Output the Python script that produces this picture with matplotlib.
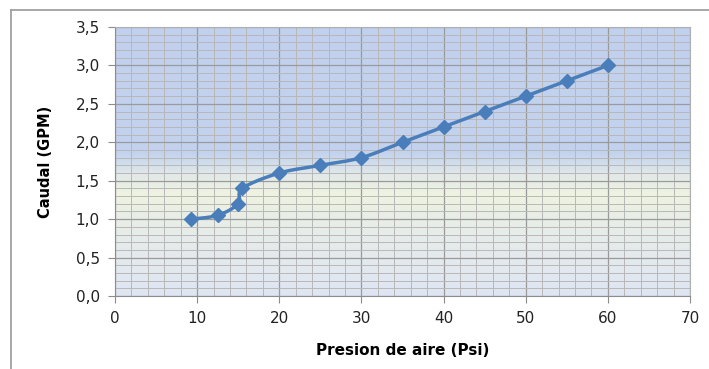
import numpy as np
import matplotlib.pyplot as plt
from matplotlib.colors import LinearSegmentedColormap
from matplotlib.ticker import MultipleLocator, FuncFormatter
from matplotlib.lines import Line2D

plt.rcParams['font.family'] = 'DejaVu Sans'

# Data
presion = [9.3, 12.5, 15.0, 15.5, 20, 25, 30, 35, 40, 45, 50, 55, 60]
caudal = [1.0, 1.05, 1.2, 1.4, 1.6, 1.7, 1.8, 2.0, 2.2, 2.4, 2.6, 2.8, 3.0]
x_ticks = [0, 10, 20, 30, 40, 50, 60, 70]
y_ticks = [0.0, 0.5, 1.0, 1.5, 2.0, 2.5, 3.0, 3.5]

line_color = '#4a7ebb'


def smooth_curve(x, y, n=30):
    """Catmull-Rom style smoothing like Excel's smoothed line."""
    x = np.asarray(x, float)
    y = np.asarray(y, float)
    px = np.concatenate([[x[0]], x, [x[-1]]])
    py = np.concatenate([[y[0]], y, [y[-1]]])
    xs, ys = [], []
    t = np.linspace(0, 1, n)
    for i in range(1, len(px) - 2):
        p0, p1, p2, p3 = [np.array([px[k], py[k]]) for k in (i - 1, i, i + 1, i + 2)]
        c1 = p1 + (p2 - p0) / 6.0
        c2 = p2 - (p3 - p1) / 6.0
        pts = ((1 - t)[:, None] ** 3 * p1 + 3 * ((1 - t) ** 2 * t)[:, None] * c1
               + 3 * ((1 - t) * t ** 2)[:, None] * c2 + (t ** 3)[:, None] * p2)
        xs.extend(pts[:, 0])
        ys.extend(pts[:, 1])
    return xs, ys


fig = plt.figure(figsize=(7.09, 3.69), dpi=100)
ax = fig.add_axes([115 / 709, 1 - 296 / 369, 575 / 709, 269 / 369])

# Outer chart frame (only top and left visible in the crop)
fig.add_artist(Line2D([11 / 709, 11 / 709], [0, 1 - 10 / 369], transform=fig.transFigure,
                      color='#a0a0a0', lw=1.3))
fig.add_artist(Line2D([11 / 709, 1], [1 - 10 / 369, 1 - 10 / 369], transform=fig.transFigure,
                      color='#a0a0a0', lw=1.3))

# Plot area gradient background
cmap = LinearSegmentedColormap.from_list('bg', [
    (0.0, '#dfe6f3'),
    (0.30, '#e9eee6'),
    (0.38, '#eef3e1'),
    (0.45, '#e2e9e8'),
    (0.53, '#c3d3ee'),
    (1.0, '#c0d0ee'),
])
grad = np.linspace(0, 1, 256).reshape(-1, 1)
ax.imshow(grad, aspect='auto', cmap=cmap, origin='lower',
          extent=[0, 1, 0, 1], transform=ax.transAxes, zorder=0)

ax.set_xlim(0, 70)
ax.set_ylim(0, 3.5)
ax.set_xticks(x_ticks)
ax.set_yticks(y_ticks)
ax.xaxis.set_minor_locator(MultipleLocator(2))
ax.yaxis.set_minor_locator(MultipleLocator(0.1))
ax.yaxis.set_major_formatter(FuncFormatter(lambda v, p: f'{v:.1f}'.replace('.', ',')))

ax.grid(which='major', color='#9a9a9a', lw=0.9, zorder=1)
ax.grid(which='minor', color='#b8b8b8', lw=0.7, zorder=1)
ax.set_axisbelow(True)

for side in ['top', 'right']:
    ax.spines[side].set_color('#b0b0b0')
for side in ['left', 'bottom']:
    ax.spines[side].set_color('#8c8c8c')

ax.tick_params(which='major', length=5, color='#8c8c8c', labelsize=11,
               labelcolor='#222222', pad=6)
ax.tick_params(which='minor', length=0)

sx, sy = smooth_curve(presion, caudal)
ax.plot(sx, sy, color=line_color, lw=2.5, zorder=3)
ax.plot(presion, caudal, linestyle='none', marker='D', markersize=7,
        color=line_color, zorder=4)

ax.set_xlabel('Presion de aire (Psi)', fontsize=11, fontweight='bold', labelpad=12)
ax.set_ylabel('Caudal (GPM)', fontsize=10.5, fontweight='bold', labelpad=16)

fig.savefig('out.png', dpi=100, facecolor='white')
